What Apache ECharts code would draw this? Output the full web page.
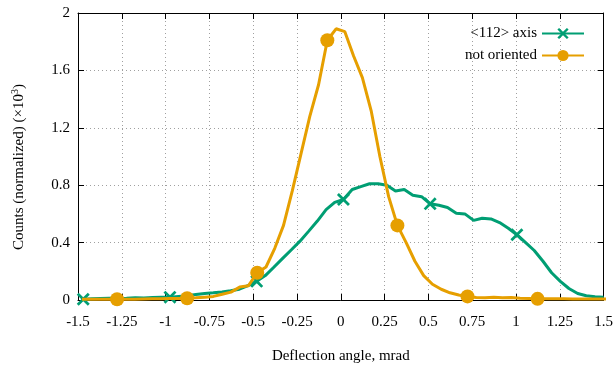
<!DOCTYPE html>
<html>
<head>
<meta charset="utf-8">
<script src="https://cdn.jsdelivr.net/npm/echarts@6/dist/echarts.min.js"></script>
<style>
html,body{margin:0;padding:0;background:#fff;}
#chart{width:616px;height:369px;}
</style>
</head>
<body>
<div id="chart"></div>
<script>
// ---- data ----
const axialX = [-1.470,-1.421,-1.371,-1.322,-1.272,-1.223,-1.173,-1.124,-1.074,-1.025,
  -0.975,-0.926,-0.876,-0.827,-0.777,-0.728,-0.678,-0.629,-0.579,-0.530,
  -0.480,-0.431,-0.381,-0.332,-0.282,-0.233,-0.183,-0.134,-0.084,-0.035,
  0.015,0.065,0.114,0.164,0.213,0.263,0.312,0.362,0.411,0.461,
  0.510,0.560,0.609,0.659,0.708,0.758,0.807,0.857,0.906,0.956,
  1.005,1.055,1.104,1.154,1.203,1.253,1.302,1.352,1.401,1.451,1.500];
const axialY = [0.005,0.008,0.010,0.012,0.010,0.012,0.015,0.014,0.017,0.020,
  0.020,0.025,0.030,0.038,0.045,0.050,0.056,0.065,0.075,0.100,
  0.130,0.170,0.230,0.290,0.350,0.410,0.480,0.550,0.630,0.680,
  0.700,0.770,0.790,0.810,0.810,0.800,0.760,0.770,0.730,0.720,
  0.670,0.660,0.645,0.605,0.600,0.555,0.570,0.565,0.540,0.500,
  0.455,0.400,0.345,0.270,0.190,0.130,0.080,0.045,0.030,0.022,0.020];
const axialMarkers = [0,10,20,30,40,50];

const randomX = [-1.477,-1.427,-1.377,-1.327,-1.277,-1.227,-1.177,-1.127,-1.077,-1.027,
  -0.977,-0.927,-0.877,-0.827,-0.777,-0.727,-0.677,-0.627,-0.577,-0.527,
  -0.477,-0.427,-0.377,-0.327,-0.277,-0.227,-0.177,-0.127,-0.077,-0.027,
  0.023,0.073,0.123,0.173,0.223,0.273,0.323,0.373,0.423,0.473,
  0.523,0.573,0.623,0.673,0.723,0.773,0.823,0.873,0.923,0.973,
  1.023,1.073,1.123,1.173,1.223,1.273,1.323,1.373,1.423,1.473,1.523];
const randomY = [0.005,0.005,0.005,0.005,0.005,0.006,0.006,0.007,0.008,0.008,
  0.010,0.010,0.012,0.015,0.020,0.025,0.040,0.055,0.090,0.100,
  0.190,0.230,0.360,0.520,0.760,1.020,1.280,1.500,1.810,1.890,
  1.870,1.700,1.550,1.320,1.000,0.720,0.520,0.400,0.270,0.170,
  0.110,0.075,0.050,0.035,0.025,0.018,0.015,0.020,0.015,0.018,
  0.012,0.010,0.008,0.008,0.008,0.008,0.007,0.007,0.007,0.007,0.007];
const randomMarkers = [4,12,20,28,36,44,52];

const seriesNames = ['<112> axis', 'not oriented'];
const xTitle = 'Deflection angle, mrad';
const yTitle = '{a|Counts (normalized) (×10}{s|3}{a|)}';

// ---- chart ----
const FONT = 'Liberation Serif';
const crossPath = 'path://M1.5,0 L5,3.5 L8.5,0 L10,1.5 L6.5,5 L10,8.5 L8.5,10 L5,6.5 L1.5,10 L0,8.5 L3.5,5 L0,1.5 Z';

function build(xs, ys, marks) {
  return xs.map((x, i) => marks.indexOf(i) >= 0 ? { value: [x, ys[i]] } : { value: [x, ys[i]], symbol: 'none' });
}

const gridLine = { show: true, lineStyle: { color: '#a0a0a0', type: [1, 3], width: 1 } };
const axisLine = { show: true, onZero: false, lineStyle: { color: '#000', width: 1 } };
const tick = { show: true, inside: true, length: 6, lineStyle: { color: '#000' } };

const chart = echarts.init(document.getElementById('chart'), null, { renderer: 'canvas' });
chart.setOption({
  animation: false,
  backgroundColor: '#fff',
  textStyle: { fontFamily: FONT },
  grid: { left: 78, right: 11, top: 13, bottom: 69, containLabel: false },
  legend: {
    orient: 'vertical', right: 26, top: 21, align: 'right',
    itemWidth: 42, itemHeight: 14, itemGap: 7,
    textStyle: { fontFamily: FONT, fontSize: 15, color: '#000' },
    data: seriesNames
  },
  graphic: [{
    type: 'text', x: 19, y: 167, rotation: Math.PI / 2,
    style: { text: yTitle, align: 'center', verticalAlign: 'middle',
      fontFamily: FONT, fontSize: 15, fill: '#000',
      rich: { a: { fontFamily: FONT, fontSize: 15, fill: '#000', color: '#000' },
              s: { fontFamily: FONT, fontSize: 10, fill: '#000', color: '#000', verticalAlign: 'top', padding: [0, 0, 8, 0] } } }
  }],
  xAxis: [
    { type: 'value', min: -1.5, max: 1.5, interval: 0.25, position: 'bottom',
      axisLine: axisLine, axisTick: tick, splitLine: gridLine,
      axisLabel: { fontFamily: FONT, fontSize: 15, color: '#000', margin: 15 },
      name: xTitle, nameLocation: 'middle', nameGap: 49,
      nameTextStyle: { fontFamily: FONT, fontSize: 15, color: '#000' } },
    { type: 'value', min: -1.5, max: 1.5, interval: 0.25, position: 'top',
      axisLine: axisLine, axisTick: tick, splitLine: { show: false }, axisLabel: { show: false } }
  ],
  yAxis: [
    { type: 'value', min: 0, max: 2, interval: 0.4, position: 'left',
      axisLine: axisLine, axisTick: tick, splitLine: gridLine,
      axisLabel: { fontFamily: FONT, fontSize: 15, color: '#000', margin: 8 } },
    { type: 'value', min: 0, max: 2, interval: 0.4, position: 'right',
      axisLine: axisLine, axisTick: tick, splitLine: { show: false }, axisLabel: { show: false } }
  ],
  series: [
    { name: seriesNames[0], type: 'line', xAxisIndex: 0, yAxisIndex: 0,
      data: build(axialX, axialY, axialMarkers),
      symbol: crossPath, symbolSize: 13, showSymbol: true, showAllSymbol: true,
      color: '#009e73', lineStyle: { color: '#009e73', width: 3 },
      itemStyle: { color: '#009e73' }, clip: true, z: 3 },
    { name: seriesNames[1], type: 'line', xAxisIndex: 0, yAxisIndex: 0,
      data: build(randomX, randomY, randomMarkers),
      symbol: 'circle', symbolSize: 14, showSymbol: true, showAllSymbol: true,
      color: '#e69f00', lineStyle: { color: '#e69f00', width: 3 },
      itemStyle: { color: '#e69f00' }, clip: true, z: 4 }
  ]
});
</script>
</body>
</html>
